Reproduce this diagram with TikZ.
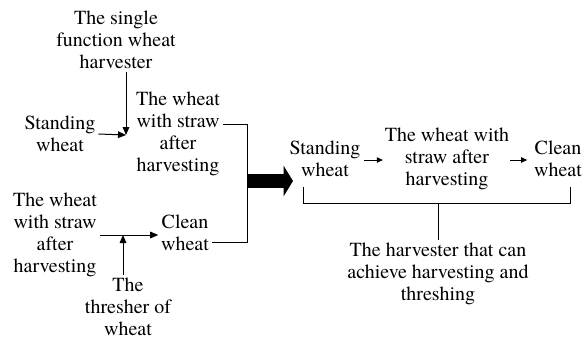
\documentclass[tikz,border=0pt]{standalone}
\usepackage{fontspec}
\setmainfont{TeX Gyre Termes}
\usetikzlibrary{arrows.meta,calc}
\tikzset{
  label-text/.style={
    align=center,
    inner sep=2pt,
    font=\fontsize{15}{16.5}\selectfont
  },
  flow/.style={
    line width=0.75pt,
    -{Triangle[length=6pt,width=5pt]}
  },
  small-flow/.style={
    line width=0.75pt,
    -{Triangle[length=4.5pt,width=4pt]}
  },
  wire/.style={line width=0.75pt},
  big-arrow/.style={
    line width=10.5pt,
    -{Triangle[length=7pt,width=22.5pt]}
  }
}

\begin{document}
\begin{tikzpicture}[x=0.75pt,y=-0.75pt]
  \useasboundingbox (0,0) rectangle (584,340);
  % separate machines
  \node[label-text] (harv) at (116,40) {The single\\function wheat\\harvester};
  \node[label-text] (stand) at (60,134) {Standing\\wheat};
  \node[label-text] (straw) at (178,134) {The wheat\\with straw\\after\\harvesting};
  \node[label-text] (straw-in) at (55,235) {The wheat\\with straw\\after\\harvesting};
  \node[label-text] (clean) at (185,233) {Clean\\wheat};
  \node[label-text] (thresh) at (128,307) {The\\thresher of\\wheat};
  \coordinate (meet-a) at (126,135);
  \coordinate (meet-b) at (123,235);
  \draw[flow] (meet-a |- harv.south) -- (meet-a);
  \draw[flow] (stand.east) -- (meet-a);
  \draw[flow] (straw-in.east |- meet-b) -- (clean.west |- meet-b);
  \draw[flow] (meet-b |- thresh.north) -- (meet-b);
  % joining line
  \coordinate (join-top) at (247,124);
  \coordinate (join-bot) at (247,242);
  \coordinate (join-mid) at (247,181);
  \coordinate (big-tip) at (293,181);
  \draw[wire] (join-top -| straw.east) -- (join-top) -- (join-bot) -- (join-bot -| clean.east);
  \draw[big-arrow] (join-mid) -- (big-tip);
  % combined machine
  \node[label-text] (r-stand) at (325,159) {Standing\\wheat};
  \node[label-text] (r-straw) at (447,159) {The wheat with\\straw after\\harvesting};
  \node[label-text] (r-clean) at (558,159) {Clean\\wheat};
  \node[label-text] (combo) at (438,274) {The harvester that can\\achieve harvesting and\\threshing};
  \draw[small-flow] ($(r-stand.east)+(1,1)$) -- ($(r-straw.west)+(1,1)$);
  \draw[small-flow] ($(r-straw.east)+(-2,1)$) -- ($(r-clean.west)+(-4,1)$);
  \coordinate (brace-l) at (303,187);
  \coordinate (brace-r) at (570,187);
  \coordinate (brace-m) at (438,203);
  \draw[wire] (brace-l) |- (brace-r |- brace-m) -- (brace-r);
  \draw[wire] (brace-m) -- (combo.north);
\end{tikzpicture}
\end{document}
